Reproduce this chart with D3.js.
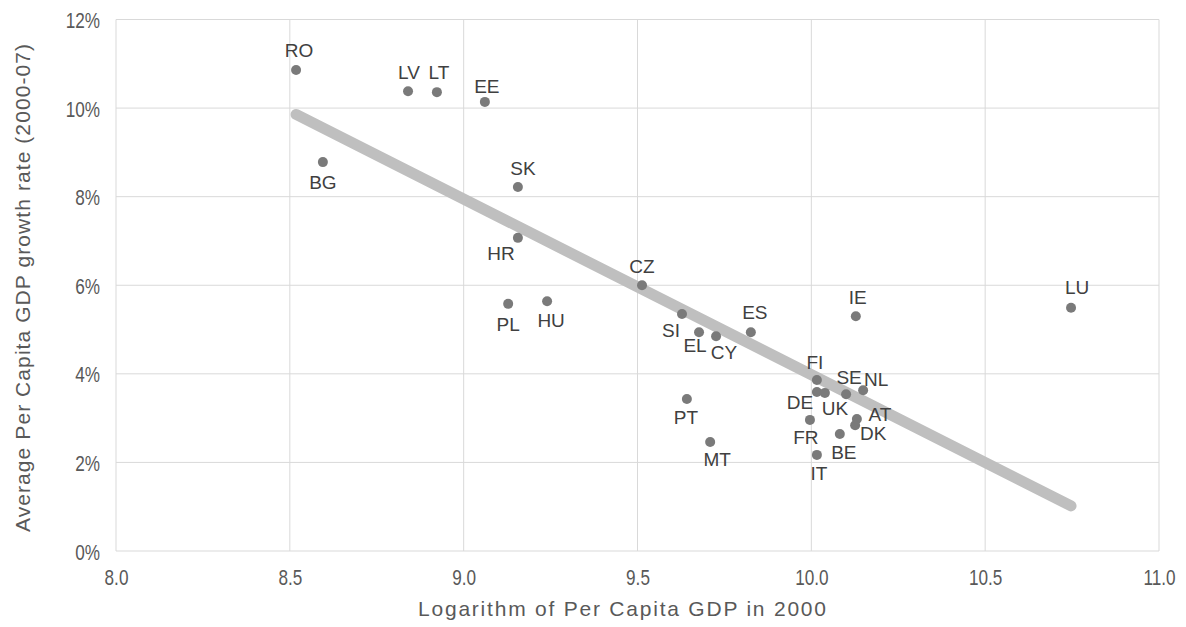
<!DOCTYPE html>
<html>
<head>
<meta charset="utf-8">
<script src="https://cdn.jsdelivr.net/npm/d3@7"></script>
<style>
  html, body { margin: 0; padding: 0; background: #ffffff; }
  svg { display: block; font-family: "Liberation Sans", Arial, sans-serif; }
</style>
</head>
<body>
<svg id="chart" width="1186" height="627"></svg>
<script>
// ---- data ----
const countries = ["RO","LV","LT","EE","BG","SK","HR","CZ","PL","HU","SI","EL","CY","ES","IE","LU","PT","MT","FI","DE","UK","SE","NL","AT","DK","FR","BE","IT"];
const logGdp2000 = [8.518, 8.840, 8.923, 9.061, 8.595, 9.156, 9.156, 9.513, 9.128, 9.240, 9.628, 9.677, 9.726, 9.826, 10.128, 10.747, 9.642, 9.709, 10.016, 10.016, 10.039, 10.100, 10.149, 10.131, 10.126, 9.996, 10.082, 10.016];
const growthPct = [10.86, 10.38, 10.36, 10.14, 8.78, 8.22, 7.07, 6.00, 5.58, 5.64, 5.35, 4.94, 4.85, 4.94, 5.30, 5.49, 3.43, 2.46, 3.86, 3.59, 3.57, 3.54, 3.63, 2.98, 2.84, 2.96, 2.64, 2.17];
const xTicks = [8.0, 8.5, 9.0, 9.5, 10.0, 10.5, 11.0];
const yTicks = [0, 2, 4, 6, 8, 10, 12];
const xTitle = "Logarithm of Per Capita GDP in 2000";
const yTitle = "Average Per Capita GDP growth rate (2000-07)";

// label placement (pixel offsets of label centre from its dot)
const labelOffsets = {
  RO:[3,-20], LV:[1,-19], LT:[2,-20], EE:[2,-16], BG:[0,20], SK:[5,-19], HR:[-17,15],
  CZ:[0,-19], PL:[0,20], HU:[4,19], SI:[-11,16], EL:[-4,13], CY:[8,16], ES:[4,-20],
  IE:[2,-19], LU:[6,-21], PT:[-1,18], MT:[7,17], FI:[-2,-18], DE:[-17,10], UK:[10,15],
  SE:[3,-17], NL:[13,-11], AT:[23,-5], DK:[18,8], FR:[-4,17], BE:[4,18], IT:[2,18]
};

const points = countries.map((c, i) => ({ c, x: logGdp2000[i], y: growthPct[i] }));

// ---- layout ----
const svg = d3.select("#chart");
const mLeft = 116, mRight = 1159, mTop = 19.5, mBottom = 551;
const x = d3.scaleLinear().domain([8, 11]).range([mLeft, mRight]);
const y = d3.scaleLinear().domain([0, 12]).range([mBottom, mTop]);

const gridColor = "#d9d9d9";
const textColor = "#595959";
const squeeze = 0.78;

// vertical gridlines
svg.append("g").selectAll("line").data(xTicks).join("line")
  .attr("x1", d => x(d)).attr("x2", d => x(d))
  .attr("y1", y(12)).attr("y2", y(0))
  .attr("stroke", gridColor).attr("stroke-width", 1);
// horizontal gridlines
svg.append("g").selectAll("line").data(yTicks).join("line")
  .attr("x1", x(8)).attr("x2", x(11))
  .attr("y1", d => y(d)).attr("y2", d => y(d))
  .attr("stroke", gridColor).attr("stroke-width", 1);

// axes (text only, via d3 axis)
const xAxis = d3.axisBottom(x).tickValues(xTicks).tickFormat(d3.format(".1f")).tickSize(0).tickPadding(18);
const gx = svg.append("g").attr("transform", `translate(0,${mBottom})`).call(xAxis);
gx.select(".domain").remove();
gx.selectAll("text").attr("fill", textColor)
  .style("font-size", "22px").style("font-family", "Liberation Sans, Arial, sans-serif")
  .attr("transform", `scale(${squeeze},1)`);

const yAxis = d3.axisLeft(y).tickValues(yTicks).tickFormat(d => d + "%").tickSize(0).tickPadding(16);
const gy = svg.append("g").attr("transform", `translate(${mLeft},0)`).call(yAxis);
gy.select(".domain").remove();
gy.selectAll("text").attr("fill", textColor)
  .style("font-size", "22px").style("font-family", "Liberation Sans, Arial, sans-serif")
  .attr("x", 0).attr("transform", `translate(-16,1) scale(${squeeze},1)`);

// axis titles
svg.append("text")
  .attr("x", 622).attr("y", 616)
  .attr("text-anchor", "middle").attr("fill", textColor)
  .attr("textLength", 408).attr("lengthAdjust", "spacing")
  .style("font-size", "21px").text(xTitle);
svg.append("text")
  .attr("transform", `translate(30,288) rotate(-90)`)
  .attr("text-anchor", "middle").attr("fill", textColor)
  .attr("textLength", 488).attr("lengthAdjust", "spacing")
  .style("font-size", "21px").text(yTitle);

// linear trendline (OLS fit of the data)
const mx = d3.mean(points, d => d.x), my = d3.mean(points, d => d.y);
const slope = d3.sum(points, d => (d.x - mx) * (d.y - my)) / d3.sum(points, d => (d.x - mx) ** 2);
const icpt = my - slope * mx;
const [xmin, xmax] = d3.extent(points, d => d.x);
svg.append("line")
  .attr("x1", x(xmin)).attr("y1", y(icpt + slope * xmin))
  .attr("x2", x(xmax)).attr("y2", y(icpt + slope * xmax))
  .attr("stroke", "#bfbfbf").attr("stroke-width", 11).attr("stroke-linecap", "round");

// points
svg.append("g").selectAll("circle").data(points).join("circle")
  .attr("cx", d => x(d.x)).attr("cy", d => y(d.y)).attr("r", 5)
  .attr("fill", "#7a7a7a");

// labels
svg.append("g").selectAll("text").data(points).join("text")
  .attr("x", d => x(d.x) + labelOffsets[d.c][0])
  .attr("y", d => y(d.y) + labelOffsets[d.c][1])
  .attr("dy", "0.36em")
  .attr("text-anchor", "middle")
  .attr("fill", "#404040")
  .style("font-size", "19px")
  .text(d => d.c);
</script>
</body>
</html>
